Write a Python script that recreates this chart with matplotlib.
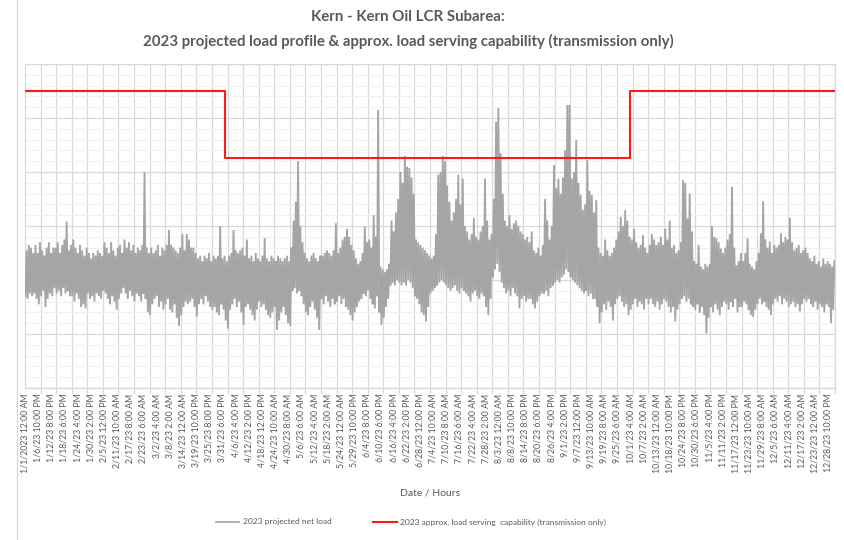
import matplotlib
matplotlib.use("Agg")
import matplotlib.pyplot as plt
from matplotlib.ticker import MultipleLocator, FixedLocator, NullFormatter
from matplotlib.lines import Line2D
import numpy as np

plt.rcParams['font.family'] = ['Lato', 'DejaVu Sans']

# ---------------- data ----------------
title_line1 = "Kern - Kern Oil LCR Subarea:"
title_line2 = "2023 projected load profile & approx. load serving capability (transmission only)"
x_title = "Date / Hours"
series_names = ["2023 projected net load",
                "2023 approx. load serving  capability (transmission only)"]

# daily high / low of the projected net load (one value per day, 364 days)
daily_high = [
    51, 53, 52, 50,
    53, 50, 54, 51, 49, 52, 54, 50, 52,
    52, 54, 50, 53, 55, 61.6, 51, 53,
    55, 52, 50, 53, 51, 49, 52,
    50, 48, 50, 49, 51, 50, 49, 54,
    52, 50, 54, 51, 49, 52, 53, 50,
    55, 52, 54, 51, 53, 50, 52,
    51, 53, 80, 52, 50,
    52, 50, 51, 53, 49, 52, 51, 53, 58.5,
    53, 52, 51, 50, 52, 57, 51, 57, 55, 52,
    52, 50, 48, 49, 47, 49, 48, 50, 47, 49,
    48, 49, 60, 48, 49, 47, 49,
    50, 58.5, 51, 50, 51, 52, 49, 55,
    48, 49, 47, 50, 48, 47, 49,
    55.5, 48, 47, 49, 48, 47, 49, 48, 47, 48, 49, 47,
    52, 62, 69, 84, 60, 54,
    50, 48, 47, 49, 50, 48, 47, 49,
    49, 50, 51, 50, 49, 51, 61, 50, 52,
    55, 56, 59, 56,
    53, 51, 48, 46, 47, 50, 59.7,
    54, 55, 52, 64, 56, 103,
    45, 44, 43, 44, 46,
    62, 58, 65, 70, 80, 76,
    86, 82, 81.5, 78, 72,
    55, 54, 53, 52, 51, 50, 49,
    48, 49, 57,
    79, 80, 86, 84, 75, 69,
    62, 65, 70, 79, 68, 77.6,
    60, 58, 55, 57, 63, 56, 55, 58, 60, 77.6, 62, 55, 57,
    70, 98.6, 103.6, 87, 72,
    62, 60, 64, 59, 61,
    62, 60, 58, 57, 55, 56, 54,
    58, 51, 50, 52, 49, 53,
    70, 62, 55, 60,
    82.6, 74, 77.6, 72, 78,
    88, 104.8, 104.8, 77.6,
    80, 91.8, 76, 71.5, 66,
    68, 84.4, 73, 71.5, 65, 69.6,
    52, 50, 49, 55, 51, 49, 50, 52, 55,
    58, 63.4, 60, 65.9, 62, 56,
    55, 59, 54, 52, 53, 56.6, 52, 50, 53,
    57, 55, 53, 54, 56, 53, 59, 55, 62,
    52, 53, 50, 51,
    54, 77, 76, 62.8, 72, 58,
    47, 46, 53, 45, 44, 46, 45, 46,
    60, 56, 55.4, 54, 51.7, 50, 52,
    55, 57, 74.5, 52, 45.5, 47, 50,
    47, 50, 55.4, 46, 45, 44, 47, 50,
    57.3, 69.2, 55, 52, 54.2, 50, 53,
    52, 53, 57.3, 54, 56, 55, 63.1, 54,
    51, 52, 53, 50, 51, 52, 50,
    48, 47, 49, 46, 47, 45, 48, 46, 47, 46, 45, 47,
]
daily_low = [
    34, 33, 35, 34,
    35, 33, 31, 34, 36, 30, 33, 35, 34,
    37, 35, 36, 34, 37, 35, 36, 34,
    34, 32, 35, 33, 30, 31, 29.5,
    35, 33, 34, 32, 35, 34, 33, 36,
    35, 33, 31, 34, 32, 29, 33, 35,
    37, 35, 33, 36, 34, 32, 35,
    34, 32, 35, 33, 28,
    27, 31, 33, 34, 30, 32, 29, 31, 33,
    29, 28, 31, 26, 23, 27, 30, 32, 31, 32,
    33, 30, 26.5, 31, 33, 31, 34, 32, 30, 29,
    30, 28, 27, 31, 29, 25, 22,
    29, 31, 33, 30, 32, 28, 23.3, 30,
    31, 29, 27, 25, 29, 32, 30,
    31, 29, 27, 26, 28, 30, 21.5, 25, 28, 30, 27, 24,
    23, 36, 37, 35, 36, 34,
    31, 28, 27, 30, 32, 29, 26, 21.5,
    33, 31, 34, 32, 30, 33, 31, 32, 34,
    31, 33, 30, 29,
    27, 25, 28, 30, 32, 33, 35,
    34, 36, 33, 31, 29.5, 34,
    28, 23.3, 26, 30, 33,
    38, 39, 38, 40, 39, 38,
    39, 38, 40, 39, 37,
    34, 33, 31, 28, 27, 24.6, 30,
    35, 36, 37,
    38, 39, 40, 39, 38, 37,
    36, 37, 38, 36, 35, 37,
    36, 35, 34, 32, 35, 36, 34, 33, 35, 34, 30, 27, 33,
    41, 44, 46, 43, 39,
    37, 35, 36, 34, 37,
    35, 34, 29.5, 33, 34, 32, 33,
    33, 31, 29.5, 32, 34, 35,
    35, 36, 34, 37,
    38, 39, 40, 39, 41,
    42, 44, 43, 41,
    40, 39, 38, 37, 36,
    35, 36, 34, 35, 33, 33,
    30, 24, 28, 31, 29, 32, 30, 25, 31,
    33, 34, 32, 30, 31, 27,
    29, 31, 33, 30, 32, 31, 29, 33, 31,
    33, 31, 30, 32, 29, 31, 33, 32, 30,
    28, 30, 24.6, 29,
    31, 33, 34, 32, 33, 31,
    30, 29, 31, 28, 30, 27, 20.2, 26,
    30, 28, 31, 29, 27, 30, 32,
    31, 29, 32, 30, 33, 28, 30,
    30, 32, 31, 29, 27, 26.4, 29, 31,
    33, 31, 32, 30, 29, 27, 31,
    33, 32, 34, 31, 33, 32, 30, 31,
    32, 30, 31, 28.3, 31, 33, 32,
    33, 31, 30, 32, 29, 31, 30, 28, 31, 30, 24, 29,
]

# load serving capability: day index where each level starts, and the level
cap_start_day = [0, 90, 272]
cap_value = [110, 85, 110]

# category-axis tick labels (every 142 hourly rows)
tick_labels = [
    "1/1/2023 12:00 AM", "1/6/23 10:00 PM", "1/12/23 8:00 PM", "1/18/23 6:00 PM",
    "1/24/23 4:00 PM", "1/30/23 2:00 PM", "2/5/23 12:00 PM", "2/11/23 10:00 AM",
    "2/17/23 8:00 AM", "2/23/23 6:00 AM", "3/2/23 4:00 AM", "3/8/23 2:00 AM",
    "3/14/23 12:00 AM", "3/19/23 10:00 PM", "3/25/23 8:00 PM", "3/31/23 6:00 PM",
    "4/6/23 4:00 PM", "4/12/23 2:00 PM", "4/18/23 12:00 PM", "4/24/23 10:00 AM",
    "4/30/23 8:00 AM", "5/6/23 6:00 AM", "5/12/23 4:00 AM", "5/18/23 2:00 AM",
    "5/24/23 12:00 AM", "5/29/23 10:00 PM", "6/4/23 8:00 PM", "6/10/23 6:00 PM",
    "6/16/23 4:00 PM", "6/22/23 2:00 PM", "6/28/23 12:00 PM", "7/4/23 10:00 AM",
    "7/10/23 8:00 AM", "7/16/23 6:00 AM", "7/22/23 4:00 AM", "7/28/23 2:00 AM",
    "8/3/23 12:00 AM", "8/8/23 10:00 PM", "8/14/23 8:00 PM", "8/20/23 6:00 PM",
    "8/26/23 4:00 PM", "9/1/23 2:00 PM", "9/7/23 12:00 PM", "9/13/23 10:00 AM",
    "9/19/23 8:00 AM", "9/25/23 6:00 AM", "10/1/23 4:00 AM", "10/7/23 2:00 AM",
    "10/13/23 12:00 AM", "10/18/23 10:00 PM", "10/24/23 8:00 PM", "10/30/23 6:00 PM",
    "11/5/23 4:00 PM", "11/11/23 2:00 PM", "11/17/23 12:00 PM", "11/23/23 10:00 AM",
    "11/29/23 8:00 AM", "12/5/23 6:00 AM", "12/11/23 4:00 AM", "12/17/23 2:00 AM",
    "12/23/23 12:00 AM", "12/28/23 10:00 PM",
]
label_step_rows = 142
grid_step_rows = 168
hours_per_day = 24

# ---------------- figure ----------------
W, H = 844, 540
fig = plt.figure(figsize=(W / 100, H / 100), dpi=100)
ax = fig.add_axes([25 / W, 1 - 388 / H, 810 / W, 324 / H])

n_days = len(daily_high)
n_rows = n_days * hours_per_day

# load: daily low (early morning) and daily high (afternoon), joined as a line
days = np.arange(n_days)
xs = np.empty(2 * n_days)
ys = np.empty(2 * n_days)
xs[0::2] = days * hours_per_day + 5
xs[1::2] = days * hours_per_day + 17
ys[0::2] = daily_low
ys[1::2] = daily_high
ax.plot(xs, ys, color='#A5A5A5', lw=1.35, solid_joinstyle='miter', zorder=3)

# capability step line
cx = [d * hours_per_day for d in cap_start_day] + [n_rows]
cy = cap_value + [cap_value[-1]]
ax.plot(cx, cy, drawstyle='steps-post', color='#FF1A1A', lw=1.5, zorder=4)

ax.set_xlim(0, n_rows)
ax.set_ylim(0, 120)

# y grid: major 20, minor 4, no labels
ax.yaxis.set_major_locator(MultipleLocator(20))
ax.yaxis.set_minor_locator(MultipleLocator(4))
ax.yaxis.set_major_formatter(NullFormatter())
ax.tick_params(axis='y', which='both', length=0)
ax.grid(axis='y', which='major', color='#D9D9D9', lw=0.9, zorder=0)
ax.grid(axis='y', which='minor', color='#F0F0F0', lw=0.8, zorder=0)

# x: labels every 142 rows, gridlines/tick marks every 168 rows
ax.xaxis.set_major_locator(FixedLocator([i * label_step_rows for i in range(len(tick_labels))]))
ax.set_xticklabels(tick_labels, rotation=90, fontsize=6.3, color='#595959')
ax.tick_params(axis='x', which='major', length=0, pad=4)
ax.xaxis.set_minor_locator(MultipleLocator(grid_step_rows))
ax.tick_params(axis='x', which='minor', length=4, color='#D9D9D9', width=0.9)
ax.grid(axis='x', which='minor', color='#D9D9D9', lw=0.9, zorder=0)
ax.set_axisbelow(True)

for s in ax.spines.values():
    s.set_color('#D9D9D9')
    s.set_linewidth(0.9)

# titles
fig.text(408 / W, 1 - 17 / H, title_line1, ha='center', va='center',
         fontsize=10.8, fontweight='bold', color='#595959')
fig.text(408 / W, 1 - 41 / H, title_line2, ha='center', va='center',
         fontsize=10.8, fontweight='bold', color='#595959')
fig.text(430 / W, 1 - 493 / H, x_title, ha='center', va='center',
         fontsize=7.5, color='#595959')

# chart-area left border
fig.add_artist(Line2D([17 / W, 17 / W], [0, 1], transform=fig.transFigure,
                      color='#D9D9D9', lw=0.9))

# legend
handles = [Line2D([], [], color='#A5A5A5', lw=1.2),
           Line2D([], [], color='#FF1A1A', lw=1.5)]
fig.legend(handles, series_names, loc='center', ncol=2,
           bbox_to_anchor=(411 / W, 1 - 522 / H), frameon=False,
           fontsize=6, handlelength=2.8, columnspacing=5, handletextpad=0.4,
           labelcolor='#595959')

fig.savefig('out.png', dpi=100, facecolor='white')
